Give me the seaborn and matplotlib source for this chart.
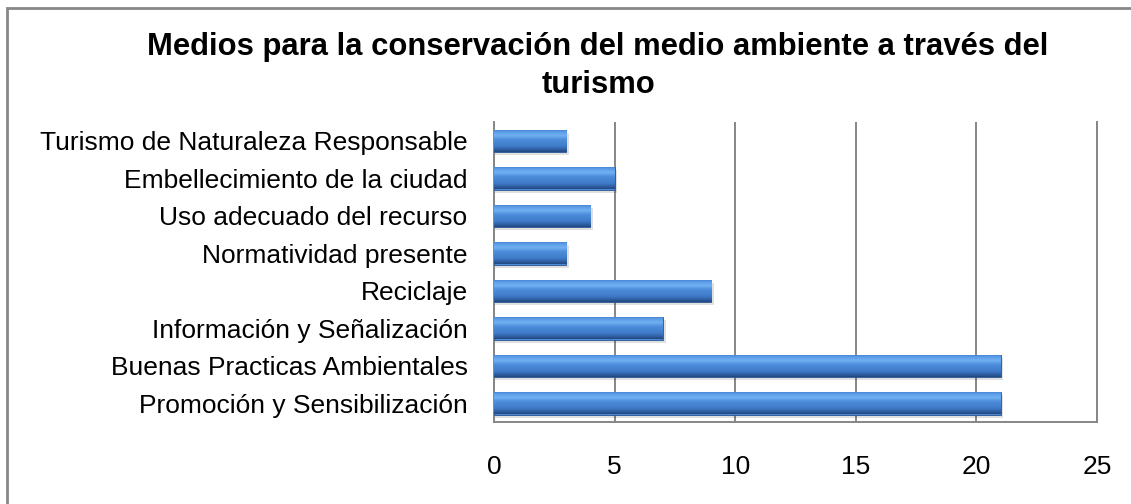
import matplotlib.pyplot as plt
import matplotlib.colors as mcolors
import numpy as np
import pandas as pd
import seaborn as sns
from matplotlib.patches import Rectangle

categorias = ['Turismo de Naturaleza Responsable', 'Embellecimiento de la ciudad',
              'Uso adecuado del recurso', 'Normatividad presente', 'Reciclaje',
              'Información y Señalización', 'Buenas Practicas Ambientales',
              'Promoción y Sensibilización']
valores = [3, 5, 4, 3, 9, 7, 21, 21]
x_ticks = [0, 5, 10, 15, 20, 25]
titulo = 'Medios para la conservación del medio ambiente a través del\nturismo'

sns.set_theme(style='white')
plt.rcParams['font.family'] = ['Liberation Sans', 'DejaVu Sans']
plt.rcParams['text.color'] = 'black'

df = pd.DataFrame({'medio': categorias, 'valor': valores})

fig = plt.figure(figsize=(11.31, 5.04), dpi=100)
ax = fig.add_axes([494 / 1131, 82 / 504, 603 / 1131, 300 / 504])

sns.barplot(data=df, y='medio', x='valor', orient='h', color='#4A8AD8',
            width=0.6, ax=ax, saturation=1)

# bevel-like gradient on each bar, plus soft shadow
grad = mcolors.LinearSegmentedColormap.from_list(
    'bevel', [(0.0, '#3E7BCB'), (0.12, '#5C9DE8'), (0.28, '#70B0F2'),
              (0.45, '#4D8DDB'), (0.75, '#3F7BC8'), (0.9, '#2F5FA2'),
              (1.0, '#22467E')])
for p in list(ax.patches):
    x0, y0 = p.get_x(), p.get_y()
    w, h = p.get_width(), p.get_height()
    ax.add_patch(Rectangle((x0, y0 + 0.08), w + 0.12, h, facecolor='#000000',
                           alpha=0.12, linewidth=0, zorder=2))
    img = ax.imshow(np.linspace(0, 1, 64).reshape(-1, 1), cmap=grad, aspect='auto',
                    extent=(x0, x0 + w, y0 + h, y0), zorder=3, interpolation='bilinear')
    img.set_clip_path(p)
    p.set_edgecolor('#2A5590')
    p.set_linewidth(0.6)
    p.set_zorder(3)

ax.set_xlim(0, 25)
ax.set_ylim(len(categorias) - 0.5, -0.5)
ax.set_xticks(x_ticks)
ax.xaxis.grid(True, color='#868686', linewidth=1.4)
ax.set_axisbelow(True)
ax.set_xlabel('')
ax.set_ylabel('')
for s in ['left', 'bottom', 'right']:
    ax.spines[s].set_visible(True)
    ax.spines[s].set_color('#868686')
    ax.spines[s].set_linewidth(1.4)
ax.spines['top'].set_visible(False)
ax.tick_params(axis='x', length=0, pad=24, labelsize=19, colors='black')
ax.tick_params(axis='y', length=0, pad=19, labelsize=19, colors='black')

fig.text(598 / 1131, 1 - 66 / 504, titulo, ha='center', va='center',
         fontsize=22.3, fontweight='bold', linespacing=1.35, color='black')

fig.patches.append(Rectangle((7 / 1131, -0.1), 1.2, 1 - 8 / 504 + 0.1,
                             transform=fig.transFigure, fill=False,
                             edgecolor='#878787', linewidth=2))

fig.savefig('out.png', dpi=100)
